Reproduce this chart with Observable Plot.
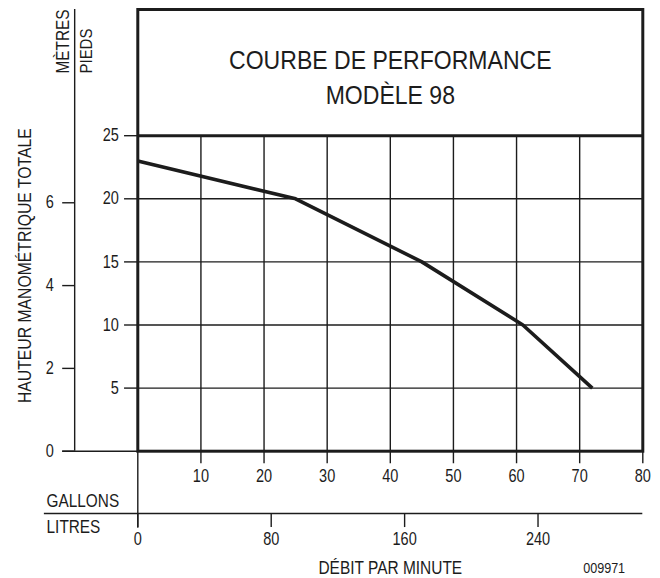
<!DOCTYPE html>
<html><head><meta charset="utf-8">
<script src="https://cdn.jsdelivr.net/npm/d3@7"></script>
<script src="https://cdn.jsdelivr.net/npm/@observablehq/plot@0.6"></script>
<style>body{margin:0;background:#fff} svg{display:block}</style>
</head><body><div id="chart"></div>
<script>
// ---- data ----
const flowGal = [0, 25, 45, 61, 72];          // gallons per minute
const headFt = [23, 20, 15, 10, 5];           // total head, feet
const galTicks = [10, 20, 30, 40, 50, 60, 70, 80];
const ftTicks = [5, 10, 15, 20, 25];
const meterTicks = [0, 2, 4, 6];
const litreTicks = [0, 80, 160, 240];
const titleText = "COURBE DE PERFORMANCE\nMODÈLE 98";
const yLabel = "HAUTEUR MANOMÉTRIQUE TOTALE";
const xLabel = "DÉBIT PAR MINUTE";
const meterLabel = "MÈTRES";
const feetLabel = "PIEDS";
const galLabel = "GALLONS";
const litreLabel = "LITRES";
const docId = "009971";
const FT_PER_M = 3.28084, L_PER_GAL = 3.78541;

const curve = flowGal.map((g, i) => ({gal: g, ft: headFt[i]}));
const ink = "#1c1c1c";
const font = "'Liberation Sans', Arial, sans-serif";
const thin = {stroke: ink, strokeWidth: 1.4};
const num = {fontSize: 17.5, fill: ink};

const plot = Plot.plot({
  width: 660, height: 578,
  marginLeft: 137.3, marginRight: 17.7, marginTop: 9, marginBottom: 127.3,
  x: {domain: [0, 80], axis: null},
  y: {domain: [0, 35], axis: null},
  style: {fontFamily: font, color: ink, background: "#fff", overflow: "visible"},
  marks: [
    // grid inside the chart area
    Plot.ruleY(ftTicks.filter(d => d < 25), {...thin}),
    Plot.ruleX(galTicks.filter(d => d < 80), {y1: -1, y2: 25, ...thin}),
    Plot.ruleX([80], {y1: -1, y2: 0, ...thin}),
    Plot.ruleX([0], {y1: -6.1, y2: 0, ...thin}),
    // feet axis
    Plot.ruleY(ftTicks, {x1: -2.1, x2: 0, ...thin}),
    Plot.text(ftTicks, {x: -3.0, y: d => d, text: d => String(d), textAnchor: "end", ...num}),
    // metres axis
    Plot.ruleX([-10], {y1: 0, y2: 35, ...thin}),
    Plot.ruleY([0], {x1: -11.9, x2: 0, ...thin}),
    Plot.ruleY(meterTicks, {y: d => d * FT_PER_M, x1: -11.9, x2: -10, ...thin}),
    Plot.text(meterTicks, {x: -13.3, y: d => d * FT_PER_M, text: d => String(d), textAnchor: "end", ...num}),
    // gallons labels
    Plot.text(galTicks, {x: d => d, y: -2.0, text: d => String(d), ...num}),
    // litres axis
    Plot.ruleY([-4.94], {x1: -14.8, x2: 80, ...thin}),
    Plot.ruleX(litreTicks, {x: d => d / L_PER_GAL, y1: -6.05, y2: -4.94, ...thin}),
    Plot.text(litreTicks, {x: d => d / L_PER_GAL, y: -7.0, text: d => String(d), ...num}),
    // frame and title separator
    Plot.frame({stroke: ink, strokeWidth: 3}),
    Plot.ruleY([25], {stroke: ink, strokeWidth: 3}),
    // performance curve
    Plot.line(curve, {x: "gal", y: "ft", stroke: ink, strokeWidth: 3.6, strokeLinejoin: "round", strokeLinecap: "butt"}),
    // texts
    Plot.text([titleText], {x: 40, y: 29.77, text: d => d, fontSize: 25.6, lineHeight: 1.37, fill: ink}),
    Plot.text([yLabel], {x: -17.9, y: 14.7, text: d => d, rotate: -90, fontSize: 19, fill: ink}),
    Plot.text([meterLabel], {x: -11.8, y: 29.93, text: d => d, rotate: -90, textAnchor: "start", fontSize: 17.5, fill: ink}),
    Plot.text([feetLabel], {x: -8.1, y: 29.93, text: d => d, rotate: -90, textAnchor: "start", fontSize: 17, fill: ink}),
    Plot.text([galLabel], {x: -14.45, y: -3.96, text: d => d, textAnchor: "start", fontSize: 18.5, fill: ink}),
    Plot.text([litreLabel], {x: -14.45, y: -6.0, text: d => d, textAnchor: "start", fontSize: 18.5, fill: ink}),
    Plot.text([xLabel], {x: 40, y: -9.3, text: d => d, fontSize: 18, fill: ink}),
    Plot.text([docId], {x: 77.2, y: -9.3, text: d => d, textAnchor: "end", fontSize: 14, fill: ink})
  ]
});

// the reference uses a condensed sans-serif: compress glyphs horizontally
const condense = (t) => {
  const s = t.textContent;
  if (s.startsWith("COURBE")) return 0.9;
  if (s === docId) return 0.9;
  if (s === xLabel) return 0.86;
  if (s === meterLabel || s === feetLabel) return 0.88;
  return 0.83;
};
for (const t of plot.querySelectorAll("text")) {
  const k = condense(t);
  let tr = t.getAttribute("transform");
  if (!tr) {
    const x = +(t.getAttribute("x") || 0), y = +(t.getAttribute("y") || 0);
    t.removeAttribute("x"); t.removeAttribute("y");
    tr = `translate(${x},${y})`;
  }
  t.setAttribute("transform", `${tr} scale(${k},1)`);
}
document.getElementById("chart").appendChild(plot);
</script>
</body></html>
